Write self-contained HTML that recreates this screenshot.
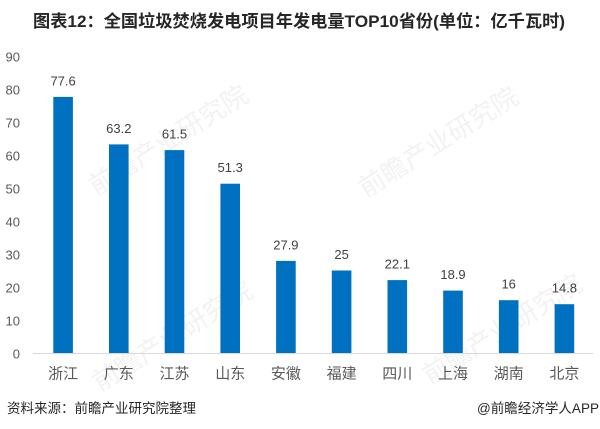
<!DOCTYPE html>
<html>
<head>
<meta charset="utf-8">
<style>
html,body{margin:0;padding:0;background:#fff;}
svg{display:block;}
</style>
</head>
<body>
<svg width="600" height="429" viewBox="0 0 600 429" xmlns="http://www.w3.org/2000/svg">
<rect width="600" height="429" fill="#fff"/>
<!-- watermarks -->
<g fill="#f2f2f2" font-family="'Liberation Sans','Noto Sans CJK SC',sans-serif" font-size="26">
  <text x="0" y="0" transform="translate(96,196) rotate(-32)">前瞻产业研究院</text>
  <text x="0" y="0" transform="translate(366,198) rotate(-32)">前瞻产业研究院</text>
  <text x="0" y="0" transform="translate(100,392) rotate(-32)">前瞻产业研究院</text>
  <text x="0" y="0" transform="translate(430,385) rotate(-32)">前瞻产业研究院</text>
</g>
<!-- title -->
<text x="33" y="27" font-family="'Liberation Sans','Noto Sans CJK SC',sans-serif" font-size="17" font-weight="bold" fill="#262626" textLength="532" lengthAdjust="spacingAndGlyphs">图表12：全国垃圾焚烧发电项目年发电量TOP10省份(单位：亿千瓦时)</text>
<!-- y tick labels -->
<g font-family="'Liberation Sans',sans-serif" font-size="13" fill="#595959" text-anchor="end">
  <text x="20" y="358.5">0</text>
  <text x="20" y="325.5">10</text>
  <text x="20" y="292.5">20</text>
  <text x="20" y="259.5">30</text>
  <text x="20" y="226.5">40</text>
  <text x="20" y="193.5">50</text>
  <text x="20" y="160.5">60</text>
  <text x="20" y="127.5">70</text>
  <text x="20" y="94.5">80</text>
  <text x="20" y="61.5">90</text>
</g>
<!-- bars -->
<g fill="#0070c0">
  <rect x="53.3" y="96.9" width="19.6" height="256.1"/>
  <rect x="109" y="144.4" width="19.6" height="208.6"/>
  <rect x="164.7" y="150.1" width="19.6" height="202.9"/>
  <rect x="220.4" y="183.7" width="19.6" height="169.3"/>
  <rect x="276.1" y="260.9" width="19.6" height="92.1"/>
  <rect x="331.8" y="270.5" width="19.6" height="82.5"/>
  <rect x="387.5" y="280.1" width="19.6" height="72.9"/>
  <rect x="443.2" y="290.6" width="19.6" height="62.4"/>
  <rect x="498.9" y="300.2" width="19.6" height="52.8"/>
  <rect x="554.6" y="304.2" width="19.6" height="48.8"/>
</g>
<!-- axis line -->
<line x1="33" y1="353.5" x2="593" y2="353.5" stroke="#d9d9d9" stroke-width="1"/>
<!-- value labels -->
<g font-family="'Liberation Sans',sans-serif" font-size="13" fill="#404040" text-anchor="middle">
  <text x="63.1" y="85.4">77.6</text>
  <text x="118.8" y="132.9">63.2</text>
  <text x="174.5" y="138.6">61.5</text>
  <text x="230.2" y="172.2">51.3</text>
  <text x="285.9" y="249.4">27.9</text>
  <text x="341.6" y="259">25</text>
  <text x="397.3" y="268.6">22.1</text>
  <text x="453" y="279.1">18.9</text>
  <text x="508.7" y="288.7">16</text>
  <text x="564.4" y="292.7">14.8</text>
</g>
<!-- category labels -->
<g font-family="'Liberation Sans','Noto Sans CJK SC',sans-serif" font-size="15" fill="#595959" text-anchor="middle">
  <text x="63.1" y="378.5">浙江</text>
  <text x="118.8" y="378.5">广东</text>
  <text x="174.5" y="378.5">江苏</text>
  <text x="230.2" y="378.5">山东</text>
  <text x="285.9" y="378.5">安徽</text>
  <text x="341.6" y="378.5">福建</text>
  <text x="397.3" y="378.5">四川</text>
  <text x="453" y="378.5">上海</text>
  <text x="508.7" y="378.5">湖南</text>
  <text x="564.4" y="378.5">北京</text>
</g>
<!-- footer -->
<text x="7" y="413" font-family="'Liberation Sans','Noto Sans CJK SC',sans-serif" font-size="13.5" fill="#262626" textLength="189" lengthAdjust="spacingAndGlyphs">资料来源：前瞻产业研究院整理</text>
<text x="477" y="413" font-family="'Liberation Sans','Noto Sans CJK SC',sans-serif" font-size="13.5" fill="#262626" textLength="122" lengthAdjust="spacingAndGlyphs">@前瞻经济学人APP</text>
</svg>
</body>
</html>
